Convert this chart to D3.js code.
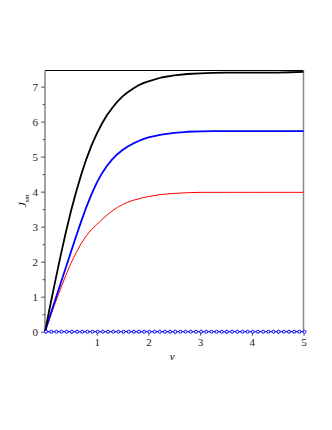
<!DOCTYPE html>
<html>
<head>
<meta charset="utf-8">
<script src="https://cdn.jsdelivr.net/npm/d3@7"></script>
<style>
  body { margin: 0; background: #fff; }
  svg text { font-family: "Liberation Serif", "Times New Roman", "DejaVu Serif", serif !important; }
</style>
</head>
<body>
<script>
// values
const vGrid = [0, 0.1, 0.2, 0.3, 0.4, 0.5, 0.6, 0.7, 0.8, 0.9, 1, 1.1, 1.2, 1.3, 1.4, 1.5, 1.6, 1.7, 1.8, 1.9, 2,
               2.25, 2.5, 2.75, 3, 3.25, 3.5, 3.75, 4, 4.25, 4.5, 4.75, 5];
const blackJ = [0, 0.74, 1.46, 2.16, 2.82, 3.43, 3.98, 4.48, 4.93, 5.32, 5.65, 5.94, 6.19, 6.39, 6.57, 6.72, 6.84, 6.94, 7.03, 7.10, 7.15,
                7.26, 7.32, 7.36, 7.38, 7.39, 7.40, 7.40, 7.40, 7.40, 7.40, 7.41, 7.42];
const blueJ  = [0, 0.46, 0.92, 1.37, 1.82, 2.27, 2.72, 3.15, 3.56, 3.93, 4.25, 4.52, 4.74, 4.92, 5.07, 5.19, 5.29, 5.37, 5.44, 5.50, 5.55,
                5.63, 5.68, 5.71, 5.72, 5.73, 5.73, 5.73, 5.73, 5.73, 5.73, 5.73, 5.73];
const redJ   = [0, 0.42, 0.83, 1.22, 1.60, 1.95, 2.25, 2.52, 2.74, 2.92, 3.06, 3.20, 3.33, 3.45, 3.55, 3.63, 3.70, 3.75, 3.79, 3.83, 3.86,
                3.92, 3.95, 3.97, 3.98, 3.98, 3.98, 3.98, 3.98, 3.98, 3.98, 3.98, 3.98];
const zeroV = [0, 0.1, 0.2, 0.3, 0.4, 0.5, 0.6, 0.7, 0.8, 0.9, 1, 1.1, 1.2, 1.3, 1.4, 1.5, 1.6, 1.7, 1.8, 1.9,
               2, 2.1, 2.2, 2.3, 2.4, 2.5, 2.6, 2.7, 2.8, 2.9, 3, 3.1, 3.2, 3.3, 3.4, 3.5, 3.6, 3.7, 3.8, 3.9,
               4, 4.1, 4.2, 4.3, 4.4, 4.5, 4.6, 4.7, 4.8, 4.9, 5];
const zeroJ = [0, 0, 0, 0, 0, 0, 0, 0, 0, 0, 0, 0, 0, 0, 0, 0, 0, 0, 0, 0,
               0, 0, 0, 0, 0, 0, 0, 0, 0, 0, 0, 0, 0, 0, 0, 0, 0, 0, 0, 0,
               0, 0, 0, 0, 0, 0, 0, 0, 0, 0, 0];
const xTicks = [1, 2, 3, 4, 5];
const xMinor = [0.5, 1.5, 2.5, 3.5, 4.5];
const yTicks = [0, 1, 2, 3, 4, 5, 6, 7];
const yMinor = [0.5, 1.5, 2.5, 3.5, 4.5, 5.5, 6.5];

var width = 332, height = 430;
var serif = "'Liberation Serif', 'Times New Roman', serif";
var svg = d3.select("body").append("svg")
  .attr("width", width)
  .attr("height", height)
  .attr("font-family", serif);

var x = d3.scaleLinear().domain([0, 5]).range([45, 303.5]);
var y = d3.scaleLinear().domain([0, 7.46]).range([331.7, 70.5]);

// frame: top and right edges
svg.append("line")
  .attr("x1", x(0)).attr("x2", x(5))
  .attr("y1", y(7.46)).attr("y2", y(7.46))
  .attr("stroke", "#000").attr("stroke-width", 1);
svg.append("line")
  .attr("x1", x(5)).attr("x2", x(5))
  .attr("y1", y(7.46)).attr("y2", y(0))
  .attr("stroke", "#888").attr("stroke-width", 1.5);

// axes
var xAxis = svg.append("g").attr("transform", `translate(0,${y(0)})`)
  .call(d3.axisBottom(x).tickValues(xTicks).tickSize(4).tickPadding(3).tickFormat(d3.format("d")));
xAxis.select(".domain").attr("stroke", "#555").attr("d", `M${x(0)},0H${x(5)}`);
svg.append("g").attr("transform", `translate(0,${y(0)})`)
  .call(d3.axisBottom(x).tickValues(xMinor).tickSize(2.5).tickFormat(""))
  .select(".domain").remove();

var yAxis = svg.append("g").attr("transform", `translate(${x(0)},0)`)
  .call(d3.axisLeft(y).tickValues(yTicks).tickSize(4).tickPadding(3).tickFormat(d3.format("d")));
yAxis.select(".domain").attr("stroke", "#444").attr("d", `M0,${y(0)}V${y(7.46)}`);
svg.append("g").attr("transform", `translate(${x(0)},0)`)
  .call(d3.axisLeft(y).tickValues(yMinor).tickSize(2.5).tickFormat(""))
  .select(".domain").remove();

svg.selectAll("g").attr("font-family", serif);
svg.selectAll(".tick line").attr("stroke", "#555");
svg.selectAll(".tick text")
  .style("font-size", "11px")
  .attr("fill", "#222");

// curves
var line = d3.line().x(d => x(d[0])).y(d => y(d[1]));
var series = [
  { vals: redJ, color: "#ff0000", w: 1 },
  { vals: blueJ, color: "#0000ff", w: 1.8 },
  { vals: blackJ, color: "#000000", w: 1.8 }
];
series.forEach(s => {
  svg.append("path")
    .datum(vGrid.map((v, i) => [v, s.vals[i]]))
    .attr("d", line)
    .attr("fill", "none")
    .attr("stroke", s.color)
    .attr("stroke-width", s.w)
    .attr("stroke-linejoin", "round");
});

// zero series with circle markers
var zeroData = zeroV.map((v, i) => [v, zeroJ[i]]);
svg.append("path")
  .datum(zeroData)
  .attr("d", line)
  .attr("fill", "none")
  .attr("stroke", "#0000ff")
  .attr("stroke-width", 0.8);
svg.selectAll("circle.z")
  .data(zeroData)
  .enter()
  .append("circle")
  .attr("class", "z")
  .attr("cx", d => x(d[0]) + 1)
  .attr("cy", d => y(d[1]))
  .attr("r", 1.5)
  .attr("fill", "#fff")
  .attr("stroke", "#0000ff")
  .attr("stroke-width", 1);

// axis labels
svg.append("text")
  .attr("x", (x(0) + x(5)) / 2 - 2)
  .attr("y", 360)
  .attr("text-anchor", "middle")
  .style("font-size", "11px")
  .style("font-style", "italic")
  .text("v");

var yl = svg.append("text")
  .attr("transform", "translate(26,201) rotate(-90)")
  .attr("text-anchor", "middle")
  .style("font-size", "11px")
  .style("font-style", "italic");
yl.append("tspan").text("J");
yl.append("tspan").attr("dy", 2.5).style("font-size", "7px").text("sm");
</script>
</body>
</html>
